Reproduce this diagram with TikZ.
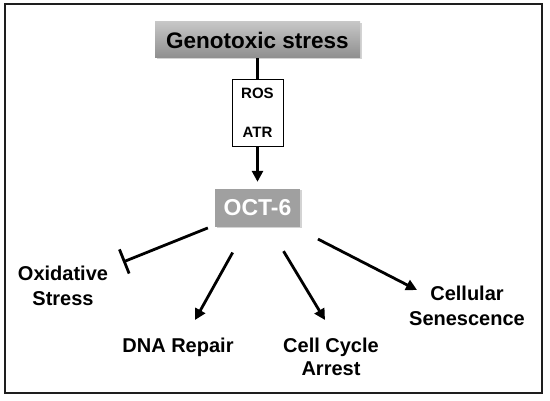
\documentclass[tikz,border=0pt]{standalone}
\usepackage{fontspec}
\setmainfont{Liberation Sans}
\usetikzlibrary{arrows.meta,shadows}
\definecolor{genotop}{HTML}{C6C6C6}
\definecolor{genobot}{HTML}{8E8E8E}
\definecolor{octfill}{HTML}{A0A0A0}
\definecolor{framec}{HTML}{1E1E1E}
\begin{document}
\begin{tikzpicture}[x=1pt,y=-1pt,
  conn/.style={line width=2.8pt,black},
  arr/.style={conn,-{Triangle[length=11pt,width=11pt]}},
  inhib/.style={conn,-{Bar[width=26pt,line width=2.8pt]}},
  lbl/.style={font=\fontsize{20}{25}\selectfont\bfseries,align=center,inner sep=0pt},
  graybox/.style={inner sep=0pt,drop shadow={shadow xshift=1.5pt,shadow yshift=-1.5pt,opacity=0.35}}
]
\useasboundingbox (0,0) rectangle (550,401);
\draw[framec,line width=2pt] (5,4.5) rectangle (542,393);

\node[graybox,top color=genotop,bottom color=genobot,minimum width=205pt,minimum height=36pt,
  font=\fontsize{22.5}{26}\selectfont\bfseries] (geno) at (257.5,40) {Genotoxic stress};

\node[draw,line width=0.6pt,minimum width=51pt,minimum height=67pt,inner sep=0pt,align=center,
  font=\fontsize{15}{18}\selectfont\bfseries] (rosbox) at (257.5,112.5) {ROS\\[21pt]ATR};

\node[graybox,fill=octfill,text=white,minimum width=85pt,minimum height=38pt,
  font=\fontsize{23}{26}\selectfont\bfseries] (oct) at (257.5,208) {OCT-6};

\node[lbl] (oxid) at (63,286) {Oxidative\\Stress};
\node[lbl] (dna) at (178,347) {DNA Repair};
\node[lbl,font=\fontsize{20}{23}\selectfont\bfseries] (ccarr) at (331,357) {Cell Cycle\\Arrest};
\node[lbl] (senes) at (467,306) {Cellular\\Senescence};

\coordinate (t1) at (123,262);
\coordinate (t2) at (195,320);
\coordinate (t3) at (325,320);
\coordinate (t4) at (417,290);

\draw[conn] (geno.south) -- (rosbox.north);
\draw[arr,shorten >=7pt] (rosbox.south) -- (oct.north);
\draw[inhib,shorten <=7.5pt] (oct) -- (t1);
\draw[arr,shorten <=29pt] (oct) -- (t2);
\draw[arr,shorten <=28pt] (oct) -- (t3);
\draw[arr,shorten <=26pt] (oct) -- (t4);
\end{tikzpicture}
\end{document}
